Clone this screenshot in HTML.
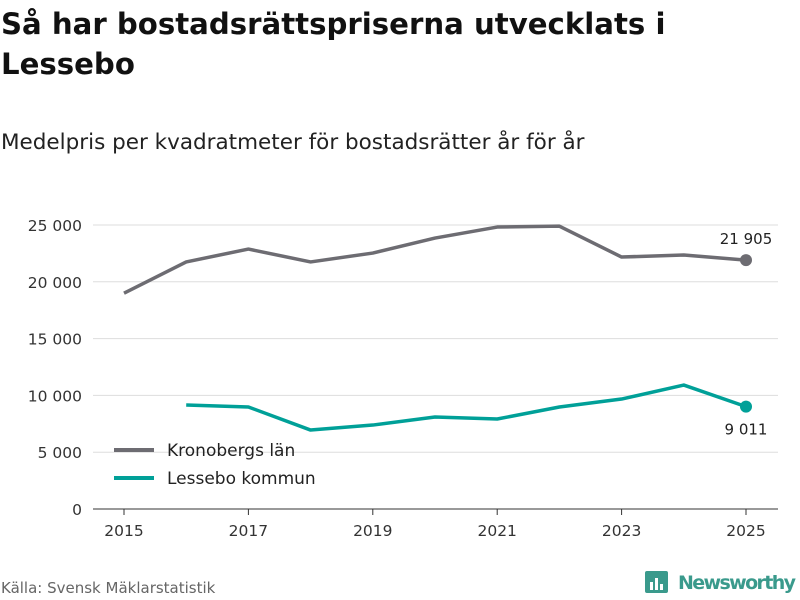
<!DOCTYPE html>
<html><head><meta charset="utf-8">
<style>
body{margin:0;background:#fff;width:800px;height:600px;overflow:hidden;font-family:"DejaVu Sans",sans-serif;color:#111}
h1{position:absolute;left:1px;top:4px;margin:0;font-size:29.2px;line-height:40px;font-weight:bold;width:790px}
.sub{position:absolute;left:1px;top:130px;font-size:21.5px;color:#222}
.src{position:absolute;left:1px;top:579px;font-size:15px;color:#666}
svg{position:absolute;left:0;top:0}
</style></head><body>
<h1>Så har bostadsrättspriserna utvecklats i<br>Lessebo</h1>
<div class="sub">Medelpris per kvadratmeter för bostadsrätter år för år</div>
<div class="src">Källa: Svensk Mäklarstatistik</div>
<svg id="chart" width="800" height="600"></svg>
<script>
const years=[2015,2016,2017,2018,2019,2020,2021,2022,2023,2024,2025];
const kronoberg=[19000,21750,22880,21750,22530,23850,24820,24900,22180,22360,21905];
const lessebo=[null,9150,8980,6950,7390,8100,7920,8980,9680,10910,9011];
const yTicks=[0,5000,10000,15000,20000,25000];
const xTicks=[2015,2017,2019,2021,2023,2025];
const NS="http://www.w3.org/2000/svg";
const FF='DejaVu Sans, sans-serif';
const svg=document.getElementById('chart');
const x=v=>124+(v-2015)*62.2;
const y=v=>509-v/25000*284;
const fmt=v=>String(v).replace(/\B(?=(\d{3})+(?!\d))/g,' ');
function mk(t,a){const e=document.createElementNS(NS,t);for(const k in a)e.setAttribute(k,a[k]);svg.appendChild(e);return e;}
yTicks.forEach(t=>{
 const l=mk('line',{x1:93,x2:778,y1:y(t),y2:y(t),stroke:t===0?'#333':'#ddd','stroke-width':1});
 
 
 const tx=mk('text',{x:82,y:y(t)+6,'text-anchor':'end','font-size':15.5,fill:'#333','font-family':FF});
 tx.textContent=fmt(t);
 
 
});
xTicks.forEach(t=>{
 const l=mk('line',{x1:x(t),x2:x(t),y1:509,y2:515,stroke:'#333'});
 
 
 const tx=mk('text',{x:x(t),y:536,'text-anchor':'middle','font-size':15.5,fill:'#333','font-family':FF});
 tx.textContent=t;
 
 
});
function series(vals,color,name){
 let d='';let started=false;
 vals.forEach((v,i)=>{if(v==null)return;d+=(started?'L':'M')+x(years[i])+' '+y(v);started=true;});
 const p=mk('path',{d,fill:'none',stroke:color,'stroke-width':3.5,'stroke-linejoin':'round'});
 
 
 const last=vals.length-1;
 const c=mk('circle',{cx:x(years[last]),cy:y(vals[last]),r:6,fill:color});
 
 
}
series(kronoberg,'#6d6c72','kronobergs-lan');
series(lessebo,'#00a098','lessebo-kommun');
let t1=mk('text',{x:x(2025),y:y(kronoberg[10])-16,'text-anchor':'middle','font-size':15,fill:'#222','font-family':FF});
t1.textContent=fmt(kronoberg[10]);


let t2=mk('text',{x:x(2025),y:y(lessebo[10])+28,'text-anchor':'middle','font-size':15,fill:'#222','font-family':FF});
t2.textContent=fmt(lessebo[10]);


[['Kronobergs län','#6d6c72',450],['Lessebo kommun','#00a098',478]].forEach(([n,c,yy])=>{
 const l=mk('line',{x1:114,x2:154,y1:yy,y2:yy,stroke:c,'stroke-width':4});
 
 
 const t=mk('text',{x:167,y:yy+6,'font-size':17,fill:'#222','font-family':FF});
 t.textContent=n;
 
 
});
const g=mk('g',{});


const r=document.createElementNS(NS,'rect');
r.setAttribute('x',645);r.setAttribute('y',571);r.setAttribute('width',23);r.setAttribute('height',22);r.setAttribute('rx',2);r.setAttribute('fill','#3a9a8c');g.appendChild(r);
[[650,582,3,8],[655,578,3,12],[660,584,3,6]].forEach(b=>{const e=document.createElementNS(NS,'rect');e.setAttribute('x',b[0]);e.setAttribute('y',b[1]);e.setAttribute('width',b[2]);e.setAttribute('height',b[3]);e.setAttribute('fill','#fff');g.appendChild(e);});
const lt=document.createElementNS(NS,'text');
lt.setAttribute('x',796);lt.setAttribute('y',589);lt.setAttribute('text-anchor','end');lt.setAttribute('textLength',118);lt.setAttribute('font-size',19);lt.setAttribute('font-weight','bold');lt.setAttribute('fill','#3a9a8c');lt.setAttribute('font-family',FF);
lt.textContent='Newsworthy';g.appendChild(lt);
</script>
</body></html>
